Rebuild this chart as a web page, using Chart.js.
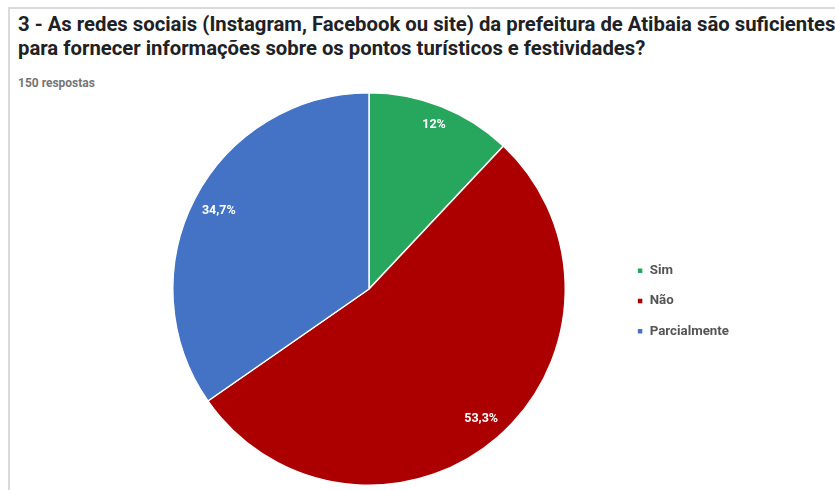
<!DOCTYPE html>
<html>
<head>
<meta charset="utf-8">
<script src="https://cdn.jsdelivr.net/npm/chart.js@4"></script>
<style>
  html, body { margin: 0; padding: 0; background: #fff; width: 835px; height: 490px; overflow: hidden; }
  #frame { position: absolute; left: 8px; top: 7px; width: 900px; height: 600px; border-top: 2px solid #dadada; border-left: 2px solid #dadada; }
  #title { position: absolute; left: 18px; top: 12px; font: bold 20.3px Roboto, sans-serif; line-height: 24px; color: #202124; white-space: nowrap; }
  #sub { position: absolute; left: 18px; top: 76px; font: bold 12px Roboto, sans-serif; color: #757575; white-space: nowrap; }
  #wrap { position: absolute; left: 0; top: 0; width: 835px; height: 490px; }
</style>
</head>
<body>
<div id="frame"></div>
<div id="title">3 - As redes sociais (Instagram, Facebook ou site) da prefeitura de Atibaia são suficientes<br>para fornecer informações sobre os pontos turísticos e festividades?</div>
<div id="sub">150 respostas</div>
<div id="wrap"><canvas id="c"></canvas></div>
<script>
const categories = ["Sim", "Não", "Parcialmente"];
const counts = [18, 80, 52];
const percentLabels = ["12%", "53,3%", "34,7%"];
const colors = ["#27a65d", "#ac0000", "#4472c4"];

const labelPlugin = {
  id: 'sliceLabels',
  afterDatasetsDraw(chart) {
    const ctx = chart.ctx;
    const meta = chart.getDatasetMeta(0);
    ctx.save();
    ctx.font = 'bold 12.5px Roboto, sans-serif';
    ctx.fillStyle = '#ffffff';
    ctx.textAlign = 'center';
    ctx.textBaseline = 'middle';
    meta.data.forEach((arc, i) => {
      const p = arc.getProps(['x', 'y', 'startAngle', 'endAngle', 'outerRadius'], true);
      const mid = (p.startAngle + p.endAngle) / 2;
      const ux = Math.cos(mid), uy = Math.sin(mid);
      const w = ctx.measureText(percentLabels[i]).width;
      const h = 10;
      const d = p.outerRadius - 12 - (w / 2 * Math.abs(ux) + h / 2 * Math.abs(uy)) * 0.85;
      ctx.fillText(percentLabels[i], p.x + ux * d, p.y + uy * d);
    });
    ctx.restore();
  }
};

new Chart(document.getElementById('c'), {
  type: 'pie',
  data: {
    labels: categories,
    datasets: [{
      data: counts,
      backgroundColor: colors,
      borderColor: '#ffffff',
      borderWidth: 1.5
    }]
  },
  options: {
    responsive: true,
    maintainAspectRatio: false,
    animation: false,
    layout: { padding: { top: 92, bottom: 4, left: 118, right: 96 } },
    plugins: {
      tooltip: { enabled: false },
      legend: {
        position: 'right',
        align: 'center',
        title: { display: true, text: ' ', padding: 0, font: { size: 20 } },
        labels: {
          boxWidth: 6,
          boxHeight: 6,
          padding: 17,
          color: '#555555',
          font: { family: 'Roboto, sans-serif', size: 13.3, weight: 'bold' }
        }
      }
    }
  },
  plugins: [labelPlugin]
});
</script>
</body>
</html>
